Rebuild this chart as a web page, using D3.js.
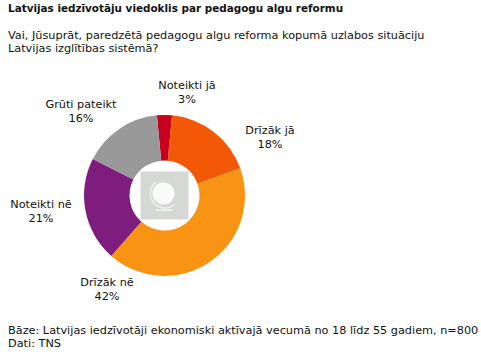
<!DOCTYPE html>
<html><head><meta charset="utf-8">
<script src="https://cdn.jsdelivr.net/npm/d3@7"></script>
<style>html,body{margin:0;padding:0;background:#fff}svg{display:block}text{font-family:"DejaVu Sans",sans-serif;font-size:11.27px;fill:#111}</style>
</head><body><div id="c"></div>
<script>
const categories=["Noteikti jā","Drīzāk jā","Drīzāk nē","Noteikti nē","Grūti pateikt"];
const values=[3,18,42,21,16];
const colors=["#c8001e","#f25806","#f99313","#7f1d7f","#999999"];
const title="Latvijas iedzīvotāju viedoklis par pedagogu algu reformu";
const question=["Vai, Jūsuprāt, paredzētā pedagogu algu reforma kopumā uzlabos situāciju","Latvijas izglītības sistēmā?"];
const footer=["Bāze: Latvijas iedzīvotāji ekonomiski aktīvajā vecumā no 18 līdz 55 gadiem, n=800","Dati: TNS"];
const labelPos=[[187,89],[270,134],[107,286],[41,208],[81,108]];

const W=481,H=358,cx=164.5,cy=195.5;
const svg=d3.select("#c").append("svg").attr("width",W).attr("height",H);
svg.append("text").attr("x",8).attr("y",12).attr("font-weight","bold").style("font-size","10.42px").text(title);
question.forEach((t,i)=>svg.append("text").attr("x",8).attr("y",39+i*13).text(t));
footer.forEach((t,i)=>svg.append("text").attr("x",8).attr("y",334+i*13).text(t));

const start=-5.4*Math.PI/180;
const pie=d3.pie().sort(null).value(d=>d).startAngle(start).endAngle(start+2*Math.PI);
const arc=d3.arc().innerRadius(35).outerRadius(80.5);
const g=svg.append("g").attr("transform",`translate(${cx},${cy})`);
g.selectAll("path").data(pie(values)).join("path").attr("d",arc).attr("fill",(d,i)=>colors[i]);

// globe icon
const ic=g.append("g");
ic.append("rect").attr("x",-24).attr("y",-24).attr("width",48).attr("height",48).attr("fill","#d6d8d6");
ic.append("circle").attr("cx",-1).attr("cy",-2).attr("r",11).attr("fill","#fafafa");
ic.append("path").attr("d","M-9,-13 A14.5,14.5 0 0 0 10,9").attr("fill","none").attr("stroke","#f2f2f2").attr("stroke-width",1.3);
ic.append("rect").attr("x",-9).attr("y",14).attr("width",17).attr("height",1.5).attr("fill","#f2f2f2");

categories.forEach((c,i)=>{
  const [x,y]=labelPos[i];
  const t=svg.append("text").attr("text-anchor","middle").attr("x",x).attr("y",y);
  t.append("tspan").attr("x",x).text(c);
  t.append("tspan").attr("x",x).attr("dy",14).text(values[i]+"%");
});
</script></body></html>
